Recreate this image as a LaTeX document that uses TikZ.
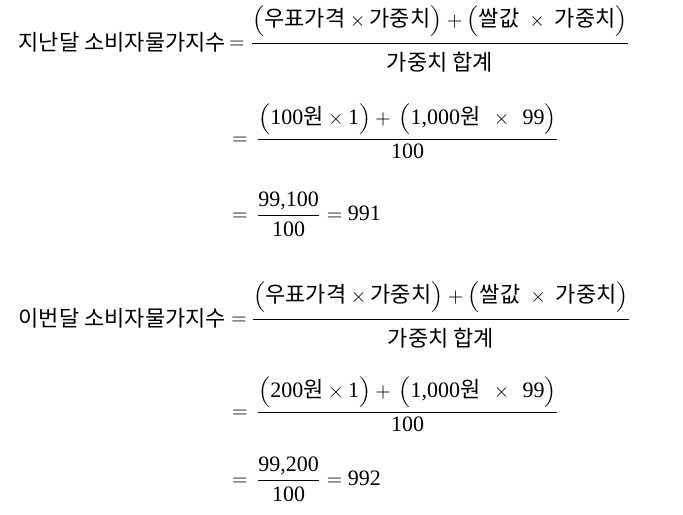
\documentclass[tikz,border=0pt]{standalone}
\usepackage{graphicx}
\usepackage{fontspec}
\setmainfont{Liberation Serif}[Scale=1.1]
\newfontfamily\kor{Noto Sans CJK KR}[Scale=1.1]
\newcommand{\hg}[1]{\mbox{\kor #1}}
\newcommand{\nm}[1]{\mbox{#1}}
\newcommand{\lpar}{\mathopen{\vcenter{\hbox{\scalebox{1}[0.85]{$\Bigl($}}}}}
\newcommand{\rpar}{\mathclose{\vcenter{\hbox{\scalebox{1}[0.85]{$\Bigr)$}}}}}
\newcommand{\numstrut}[1]{\rule[-#1]{0pt}{#1}}
\newcommand{\denstrut}[1]{\rule{0pt}{#1}}
\tikzset{term/.style={inner sep=0pt, outer sep=0pt}}
\begin{document}
\begin{tikzpicture}[x=0.5pt, y=-0.5pt]

    \useasboundingbox (0,0) rectangle (683,514);

    % last month
    \node[term, anchor=base east] (lastname) at (226,50) {\hg{지난달 소비자물가지수}};
    \node[term, anchor=base] (lasteqa) at (237,48) {$=$};
    \node[term, anchor=base west] (lastdef) at (250,48) {$\displaystyle\frac{\numstrut{6.9pt}\lpar\hg{우표가격}\times\hg{가중치}\rpar+\lpar\hg{쌀값}\;\times\;\hg{가중치}\rpar}{\denstrut{12.4pt}\hg{가중치 합계}}$};

    \node[term, anchor=base] (lasteqb) at (240,144) {$=$};
    \node[term, anchor=base west] (lastsum) at (256,144) {$\displaystyle\frac{\numstrut{5.9pt}\lpar\nm{100}\hg{원}\times\nm{1}\rpar+\,\lpar\nm{1,000}\hg{원}\;\,\times\;\,\nm{99}\rpar}{\denstrut{8.5pt}\nm{100}}$};

    \node[term, anchor=base] (lasteqc) at (240,220) {$=$};
    \node[term, anchor=base west] (lastval) at (256,220) {$\displaystyle\frac{\nm{99,100}}{\denstrut{9.4pt}\nm{100}}=\nm{991}$};

    % this month
    \node[term, anchor=base east] (thisname) at (226,326) {\hg{이번달 소비자물가지수}};
    \node[term, anchor=base] (thiseqa) at (239,324) {$=$};
    \node[term, anchor=base west] (thisdef) at (251,324) {$\displaystyle\frac{\numstrut{6.9pt}\lpar\hg{우표가격}\times\hg{가중치}\rpar+\lpar\hg{쌀값}\;\times\;\hg{가중치}\rpar}{\denstrut{12.4pt}\hg{가중치 합계}}$};

    \node[term, anchor=base] (thiseqb) at (240,417) {$=$};
    \node[term, anchor=base west] (thissum) at (256,417) {$\displaystyle\frac{\numstrut{5.9pt}\lpar\nm{200}\hg{원}\times\nm{1}\rpar+\,\lpar\nm{1,000}\hg{원}\;\,\times\;\,\nm{99}\rpar}{\denstrut{8.5pt}\nm{100}}$};

    \node[term, anchor=base] (thiseqc) at (240,485) {$=$};
    \node[term, anchor=base west] (thisval) at (256,485) {$\displaystyle\frac{\nm{99,200}}{\denstrut{9.4pt}\nm{100}}=\nm{992}$};

\end{tikzpicture}
\end{document}
